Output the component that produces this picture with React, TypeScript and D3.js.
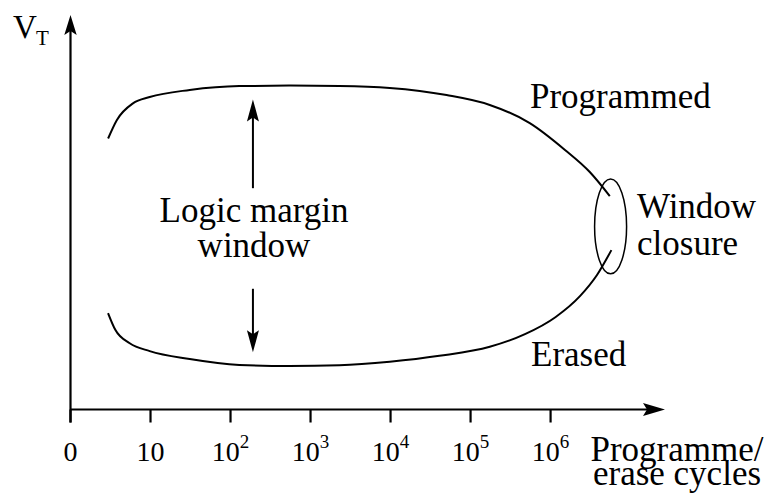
import React from "react";
import * as d3 from "d3";

// Endurance of a floating-gate cell: threshold voltage vs programme/erase cycles
const cycleDecades = [0, 1, 2, 3, 4, 5, 6];
const tickBase = ["0", "10", "10", "10", "10", "10", "10"];
const tickExp = ["", "", "2", "3", "4", "5", "6"];

// x in decades of cycles (0 = origin, 1 = 10, 2 = 10^2 ...), y in relative V_T units
const programmedX = [0.47, 0.58, 0.78, 0.99, 1.49, 2.11, 2.74, 3.36, 3.99, 4.7, 5.24, 5.74, 6.18, 6.49, 6.74];
const programmedY = [6.87, 7.34, 7.76, 7.92, 8.1, 8.2, 8.21, 8.2, 8.15, 7.97, 7.72, 7.26, 6.58, 6.02, 5.41];

const erasedX = [0.47, 0.56, 0.74, 0.99, 1.49, 2.11, 2.74, 3.36, 3.99, 4.61, 5.24, 5.68, 6.06, 6.37, 6.58, 6.76];
const erasedY = [2.44, 2.02, 1.68, 1.48, 1.28, 1.13, 1.1, 1.12, 1.21, 1.36, 1.59, 1.91, 2.34, 2.88, 3.41, 4.04];

// Logic margin arrows: [from, to] in V_T units at a fixed cycle position
const marginArrowX = 2.28;
const marginUp = [5.61, 7.86];
const marginDown = [3.06, 1.45];

// Window-closure ellipse (centre and radii in data units)
const closureCenter = [6.75, 4.64];
const closureRadii = [0.2, 1.2];

const W = 767;
const H = 499;
const FONT = "'Liberation Serif', 'Times New Roman', Times, 'DejaVu Serif', serif";

const xScale = d3.scaleLinear().domain([0, 7.43]).range([70.5, 665]);
const yScale = d3.scaleLinear().domain([0, 10]).range([409.5, 15]);

function arrowHead(tx: number, ty: number, dx: number, dy: number, len: number, half: number, notch: number) {
  const px = -dy;
  const py = dx;
  const bx = tx - dx * len;
  const by = ty - dy * len;
  const p = d3.path();
  p.moveTo(tx, ty);
  p.lineTo(bx + px * half, by + py * half);
  p.lineTo(tx - dx * (len - notch), ty - dy * (len - notch));
  p.lineTo(bx - px * half, by - py * half);
  p.closePath();
  return p.toString();
}

const textStyle: React.CSSProperties = { fontFamily: FONT };

export default function App() {
  const line = d3
    .line<[number, number]>()
    .x((d) => xScale(d[0]))
    .y((d) => yScale(d[1]))
    .curve(d3.curveMonotoneX);

  const programmed = programmedX.map((x, i) => [x, programmedY[i]] as [number, number]);
  const erased = erasedX.map((x, i) => [x, erasedY[i]] as [number, number]);

  const x0 = xScale(0);
  const y0 = yScale(0);
  const xEnd = xScale(7.43);
  const yEnd = yScale(10);

  const ax = xScale(marginArrowX);
  const cx = xScale(closureCenter[0]);
  const cy = yScale(closureCenter[1]);
  const rx = xScale(closureRadii[0]) - xScale(0);
  const ry = yScale(0) - yScale(closureRadii[1]);

  return (
    <svg
      width={W}
      height={H}
      viewBox={`0 0 ${W} ${H}`}
      style={{ position: "absolute", left: 0, top: 0, background: "#fff", fontFamily: FONT }}
    >
      <rect width={W} height={H} fill="#fff" />

      {/* axes */}
      <line x1={x0} y1={y0 + 13} x2={x0} y2={yEnd + 14} stroke="#000" strokeWidth={2.2} />
      <path d={arrowHead(x0, yEnd, 0, -1, 20, 6.2, 4)} fill="#000" />
      <line x1={x0} y1={y0} x2={xEnd - 14} y2={y0} stroke="#000" strokeWidth={2.2} />
      <path d={arrowHead(xEnd, y0, 1, 0, 22, 6.5, 4)} fill="#000" />

      {/* ticks and labels */}
      {cycleDecades.map((d, i) => (
        <g key={d}>
          <line x1={xScale(d)} y1={y0} x2={xScale(d)} y2={y0 + 13} stroke="#000" strokeWidth={2.2} />
          <text x={xScale(d)} y={461} fontSize={28} textAnchor="middle" style={textStyle}>
            {tickBase[i]}
            {tickExp[i] && (
              <tspan fontSize={19} dy={-13}>
                {tickExp[i]}
              </tspan>
            )}
          </text>
        </g>
      ))}

      {/* axis titles */}
      <text x={13} y={38} fontSize={33} style={textStyle}>
        V
      </text>
      <text x={36} y={45} fontSize={21} style={textStyle}>
        T
      </text>
      <text x={677} y={461} fontSize={35} textAnchor="middle" style={textStyle}>
        Programme/
      </text>
      <text x={677} y={485} fontSize={35} textAnchor="middle" style={textStyle}>
        erase cycles
      </text>

      {/* curves */}
      <path d={line(programmed) || ""} fill="none" stroke="#000" strokeWidth={2} />
      <path d={line(erased) || ""} fill="none" stroke="#000" strokeWidth={2} />

      {/* window closure ellipse */}
      <ellipse cx={cx} cy={cy} rx={rx} ry={ry} fill="none" stroke="#000" strokeWidth={1.5} />

      {/* logic margin arrows */}
      <line x1={ax} y1={yScale(marginUp[0])} x2={ax} y2={yScale(marginUp[1]) + 15} stroke="#000" strokeWidth={2} />
      <path d={arrowHead(ax, yScale(marginUp[1]), 0, -1, 22, 6, 4)} fill="#000" />
      <line x1={ax} y1={yScale(marginDown[0])} x2={ax} y2={yScale(marginDown[1]) - 15} stroke="#000" strokeWidth={2} />
      <path d={arrowHead(ax, yScale(marginDown[1]), 0, 1, 22, 6, 4)} fill="#000" />

      {/* labels */}
      <text x={530} y={108} fontSize={35} style={textStyle}>
        Programmed
      </text>
      <text x={531} y={366} fontSize={35} style={textStyle}>
        Erased
      </text>
      <text x={254} y={222} fontSize={35} textAnchor="middle" style={textStyle}>
        Logic margin
      </text>
      <text x={254} y={257} fontSize={35} textAnchor="middle" style={textStyle}>
        window
      </text>
      <text x={637} y={218} fontSize={35} style={textStyle}>
        Window
      </text>
      <text x={637} y={255} fontSize={35} style={textStyle}>
        closure
      </text>
    </svg>
  );
}
